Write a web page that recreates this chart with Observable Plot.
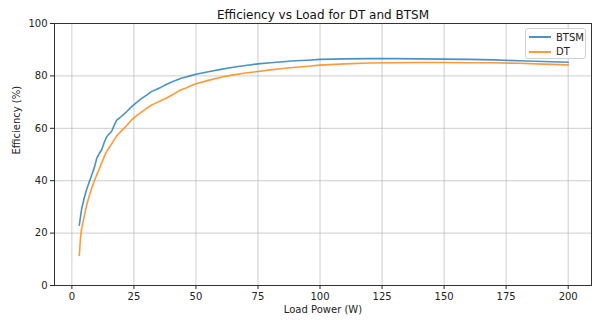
<!DOCTYPE html>
<html>
<head>
<meta charset="utf-8">
<script src="https://cdn.jsdelivr.net/npm/d3@7"></script>
<script src="https://cdn.jsdelivr.net/npm/@observablehq/plot@0.6"></script>
<style>
  html, body { margin: 0; padding: 0; background: #fff; }
  #wrap { position: relative; width: 595px; height: 320px; font-family: "DejaVu Sans", sans-serif; }
  #legend { position: absolute; left: 525px; top: 28px; width: 61px; height: 31px; border: 1px solid #d0d0d0; border-radius: 3px; background: rgba(255,255,255,0.85); font-size: 10px; color: #222; box-sizing: border-box; }
  .item { position: absolute; left: 3px; display: flex; align-items: center; height: 14px; }
  .sw { width: 22px; height: 0; border-top: 2px solid; margin-right: 5px; }
</style>
</head>
<body>
<div id="wrap"></div>
<script>
const title = "Efficiency vs Load for DT and BTSM";
const xLabel = "Load Power (W)";
const yLabel = "Efficiency (%)";
const seriesNames = ["BTSM", "DT"];
const seriesColors = ["#1f77b4", "#ff7f0e"];
const xTicks = [0, 25, 50, 75, 100, 125, 150, 175, 200];
const yTicks = [0, 20, 40, 60, 80, 100];

const loadW = [3, 3.5, 4, 5, 6, 7, 8, 9, 10, 11, 12, 13, 14, 15, 16, 17, 18, 19, 20, 22, 24, 26, 28, 30, 32, 34, 36, 38, 40, 42, 44, 46, 48, 50, 55, 60, 65, 70, 75, 80, 85, 90, 95, 100, 110, 120, 130, 140, 150, 160, 170, 180, 190, 200];
const btsm = [23.0, 26.5, 29.5, 33.5, 36.8, 39.5, 42.2, 44.8, 48.5, 50.3, 51.8, 54.5, 56.8, 57.8, 58.8, 61.0, 63.0, 63.8, 64.6, 66.3, 68.2, 69.8, 71.3, 72.6, 74.0, 74.8, 75.7, 76.7, 77.6, 78.3, 79.1, 79.6, 80.1, 80.6, 81.6, 82.5, 83.3, 84.0, 84.6, 85.0, 85.4, 85.8, 86.0, 86.3, 86.5, 86.6, 86.6, 86.5, 86.4, 86.3, 86.1, 85.8, 85.5, 85.2];
const dt = [11.5, 18.5, 22.0, 26.5, 30.8, 34.2, 37.2, 39.8, 42.2, 44.3, 46.8, 49.0, 51.2, 52.5, 54.0, 55.5, 57.0, 58.0, 59.0, 61.0, 63.1, 64.7, 66.2, 67.5, 68.8, 69.7, 70.6, 71.5, 72.5, 73.6, 74.7, 75.4, 76.2, 77.0, 78.3, 79.5, 80.4, 81.1, 81.7, 82.3, 82.8, 83.3, 83.7, 84.1, 84.6, 84.9, 85.0, 85.1, 85.1, 85.0, 85.0, 84.8, 84.5, 84.2];

const rows = [];
loadW.forEach((x, i) => {
  rows.push({x, y: btsm[i], s: seriesNames[0]});
});
loadW.forEach((x, i) => {
  rows.push({x, y: dt[i], s: seriesNames[1]});
});

const chart = Plot.plot({
  width: 595,
  height: 320,
  marginLeft: 54,
  marginRight: 4,
  marginTop: 23,
  marginBottom: 35,
  style: {fontFamily: "DejaVu Sans, sans-serif", fontSize: "10px", color: "#222", background: "#fff"},
  x: {domain: [-7, 209.4]},
  y: {domain: [0, 100]},
  color: {domain: seriesNames, range: seriesColors},
  marks: [
    Plot.gridX(xTicks, {stroke: "#b0b0b0", strokeOpacity: 0.8, strokeWidth: 0.8}),
    Plot.gridY(yTicks, {stroke: "#b0b0b0", strokeOpacity: 0.8, strokeWidth: 0.8}),
    Plot.axisX(xTicks, {tickSize: 4, tickPadding: 3, label: null, fontSize: 10}),
    Plot.axisY(yTicks, {tickSize: 4, tickPadding: 3, label: null, fontSize: 10}),
    Plot.line(rows, {x: "x", y: "y", z: "s", stroke: "s", strokeWidth: 1.6, strokeOpacity: 0.8}),
    Plot.frame({stroke: "#333", strokeWidth: 1}),
    Plot.text([title], {frameAnchor: "top", dy: -13, fontSize: 12, fill: "#111"}),
    Plot.text([xLabel], {frameAnchor: "bottom", dy: 27, fontSize: 10, fill: "#222"}),
    Plot.text([yLabel], {frameAnchor: "left", dx: -38, rotate: -90, fontSize: 10, fill: "#222"})
  ]
});

const wrap = document.getElementById("wrap");
wrap.appendChild(chart);
const legend = document.createElement("div");
legend.id = "legend";
seriesNames.forEach((n, i) => {
  const item = document.createElement("div");
  item.className = "item";
  item.style.top = (1 + i * 14.5) + "px";
  const sw = document.createElement("span");
  sw.className = "sw";
  sw.style.borderColor = seriesColors[i];
  sw.style.opacity = 0.8;
  const t = document.createElement("span");
  t.textContent = n;
  item.appendChild(sw);
  item.appendChild(t);
  legend.appendChild(item);
});
wrap.appendChild(legend);
</script>
</body>
</html>
